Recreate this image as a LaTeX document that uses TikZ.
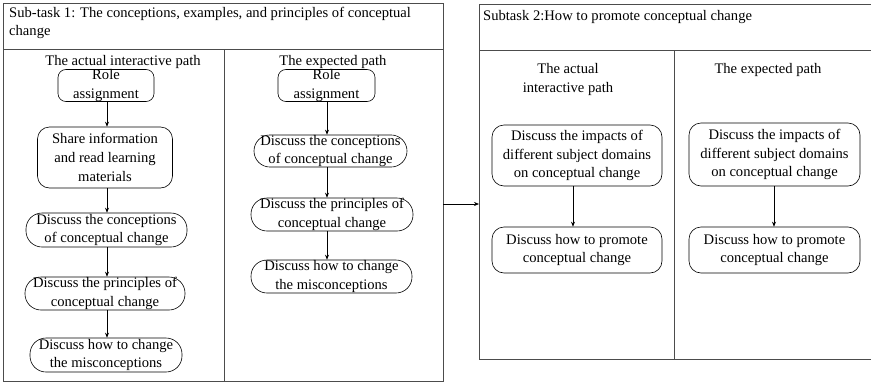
\documentclass[tikz,border=0pt]{standalone}
\usepackage{fontspec}
\setmainfont{Liberation Serif}
\usetikzlibrary{arrows.meta}
\begin{document}
\begin{tikzpicture}[x=1pt,y=-1pt,
  frame/.style={draw=black!70, line width=0.9pt, inner sep=0pt, anchor=north west},
  rule/.style={draw=black!70, line width=0.9pt},
  title/.style={font=\fontsize{14.6}{18.5}\selectfont, inner sep=0pt},
  stepbox/.style={draw, line width=0.6pt, font=\fontsize{14.6}{18.8}\selectfont, align=center, inner sep=0pt},
  pill/.style={stepbox, rounded corners=16pt},
  arr/.style={-{Stealth[length=5pt,width=4pt]}, line width=0.6pt}
]
\useasboundingbox (0,0) rectangle (871,386);

% ---- Sub-task 1 frame ----
\node[frame, minimum width=440pt, minimum height=378pt] (task1) at (3,3) {};
\draw[rule] (3,49) -- (443,49);
\draw[rule] (224,49) -- (224,381);
\node[title, anchor=north west, align=left] (t1) at (9,7)
  {Sub-task 1: The conceptions, examples, and principles of conceptual\\change};
\node[title] (h1) at (123,62) {The actual interactive path};
\node[title] (h2) at (333,62) {The expected path};

% actual path
\node[stepbox, rounded corners=8pt, minimum width=96pt, minimum height=31pt] (a1) at (106,85.5) {Role\\assignment};
\node[stepbox, rounded corners=12pt, minimum width=135pt, minimum height=61pt] (a2) at (105,157.5) {Share information\\and read learning\\materials};
\node[pill, minimum width=161pt, minimum height=34pt] (a3) at (106.5,230) {Discuss the conceptions\\of conceptual change};
\node[pill, minimum width=160pt, minimum height=33pt] (a4) at (105,293.5) {Discuss the principles of\\conceptual change};
\node[pill, minimum width=152pt, minimum height=34pt] (a5) at (106,355) {Discuss how to change\\the misconceptions};
\coordinate (ax) at (107,0);
\draw[arr] (ax |- a1.south) -- (ax |- a2.north);
\draw[arr] (ax |- a2.south) -- (ax |- a3.north);
\draw[arr] (ax |- a3.south) -- (ax |- a4.north);
\draw[arr] (ax |- a4.south) -- (ax |- a5.north);

% expected path
\node[stepbox, rounded corners=8pt, minimum width=97pt, minimum height=31pt] (b1) at (326.5,85.5) {Role\\assignment};
\node[pill, minimum width=153pt, minimum height=32pt] (b2) at (330.5,151) {Discuss the conceptions\\of conceptual change};
\node[pill, minimum width=162pt, minimum height=33pt] (b3) at (332,214.5) {Discuss the principles of\\conceptual change};
\node[pill, minimum width=161pt, minimum height=33pt] (b4) at (331.5,276.5) {Discuss how to change\\the misconceptions};
\coordinate (bx) at (327,0);
\draw[arr] (bx |- b1.south) -- (bx |- b2.north);
\draw[arr] (bx |- b2.south) -- (bx |- b3.north);
\draw[arr] (bx |- b3.south) -- (bx |- b4.north);

% ---- Subtask 2 frame ----
\node[frame, minimum width=400pt, minimum height=355pt] (task2) at (479,4) {};
\draw[rule] (479,50) -- (879,50);
\draw[rule] (674,50) -- (674,359);
\node[title, anchor=west] (t2) at (483,17) {Subtask 2:How to promote conceptual change};
\node[title, align=center, font=\fontsize{14.6}{19}\selectfont] (h3) at (568,79) {The actual\\interactive path};
\node[title] (h4) at (768,70) {The expected path};

\node[stepbox, rounded corners=12pt, minimum width=170pt, minimum height=61pt] (c1) at (577,155.5) {Discuss the impacts of\\different subject domains\\on conceptual change};
\node[stepbox, rounded corners=12pt, minimum width=170pt, minimum height=46pt] (c2) at (577,250) {Discuss how to promote\\conceptual change};
\coordinate (cx) at (573,0);
\draw[arr] (cx |- c1.south) -- (cx |- c2.north);

\node[stepbox, rounded corners=12pt, minimum width=171pt, minimum height=63pt] (d1) at (774.5,154.5) {Discuss the impacts of\\different subject domains\\on conceptual change};
\node[stepbox, rounded corners=12pt, minimum width=171pt, minimum height=46pt] (d2) at (774.5,250) {Discuss how to promote\\conceptual change};
\coordinate (dx) at (774,0);
\draw[arr] (dx |- d1.south) -- (dx |- d2.north);

% link between the two sub-tasks
\coordinate (l1) at (443,204);
\coordinate (l2) at (479,204);
\draw[arr] (l1) -- (l2);
\end{tikzpicture}
\end{document}
